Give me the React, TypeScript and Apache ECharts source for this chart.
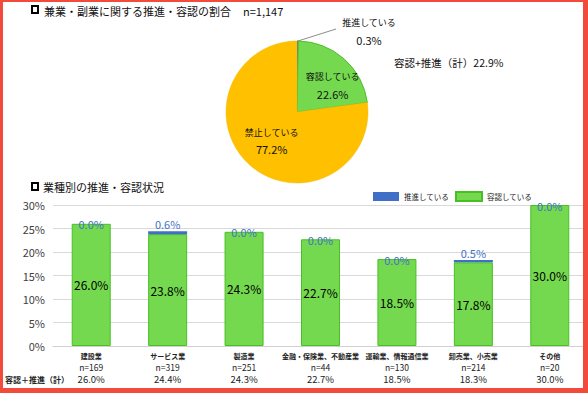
import React, { useEffect, useRef } from 'react';
import * as echarts from 'echarts';

// ---- Pie data ----
const pieNames = ['推進している', '容認している', '禁止している'];
const pieValues = [0.3, 22.6, 77.2];
const pieColors = ['#4472c4', '#74d94f', '#ffc000'];
const pieTitle = '兼業・副業に関する推進・容認の割合';
const sampleSize = 'n=1,147';
const pieTotalLabel = '容認+推進（計）22.9%';

// ---- Bar data ----
const barTitle = '業種別の推進・容認状況';
const categories = ['建設業', 'サービス業', '製造業', '金融・保険業、不動産業', '運輸業、情報通信業', '卸売業、小売業', 'その他'];
const sampleN = [169, 319, 251, 44, 130, 214, 20];
const promote = [0.0, 0.6, 0.0, 0.0, 0.0, 0.5, 0.0];
const allow = [26.0, 23.8, 24.3, 22.7, 18.5, 17.8, 30.0];
const totals = [26.0, 24.4, 24.3, 22.7, 18.5, 18.3, 30.0];
const totalRowLabel = '容認＋推進（計）';
const seriesNames = ['推進している', '容認している'];
const yMin = 0;
const yMax = 30;
const yStep = 5;

const FONT = '"Noto Sans CJK JP", "Noto Sans", sans-serif';

export default function App() {
  const ref = useRef<HTMLDivElement>(null);

  useEffect(() => {
    if (!ref.current) return;
    const chart = echarts.init(ref.current, null, { renderer: 'svg' });
    const option: any = {
      animation: false,
      backgroundColor: '#ffffff',
      textStyle: { fontFamily: FONT },
      legend: {
        data: seriesNames,
        left: 368,
        top: 186,
        itemWidth: 26,
        itemHeight: 9,
        itemGap: 6,
        icon: 'rect',
        textStyle: { fontSize: 7.5, color: '#222', fontFamily: FONT },
      },
      grid: { left: 53, right: -7, top: 205, bottom: 47, containLabel: false },
      xAxis: {
        type: 'category',
        data: categories,
        axisTick: { show: false },
        axisLine: { lineStyle: { color: '#d0d0d0' } },
        axisLabel: {
          interval: 0,
          margin: 4,
          formatter: (v: string, i: number) =>
            `{a|${v}}\n{b|n=${sampleN[i]}}\n{c|${totals[i].toFixed(1)}%}`,
          rich: {
            a: { fontSize: 7, fontWeight: 'bold', color: '#222', lineHeight: 11, fontFamily: FONT },
            b: { fontSize: 8.5, color: '#222', lineHeight: 11, fontFamily: FONT },
            c: { fontSize: 9.5, color: '#222', lineHeight: 13, fontFamily: FONT },
          },
        },
      },
      yAxis: {
        type: 'value',
        min: yMin,
        max: yMax,
        interval: yStep,
        axisLine: { show: false },
        axisTick: { show: false },
        splitLine: { lineStyle: { color: '#d9d9d9' } },
        axisLabel: { formatter: '{value}%', fontSize: 11, color: '#404040', margin: 8 },
      },
      series: [
        {
          type: 'pie',
          center: [297, 112],
          radius: 71,
          startAngle: 90,
          clockwise: true,
          avoidLabelOverlap: false,
          data: pieNames.map((n, i) => ({
            name: n,
            value: pieValues[i],
            itemStyle: {
              color: pieColors[i],
              borderColor: i === 1 ? '#4fbf2c' : i === 0 ? '#3a65b5' : '#f5b800',
              borderWidth: i === 2 ? 0.5 : 1,
            },
            label:
              i === 0
                ? { position: 'outside', show: true }
                : { position: 'inside', show: true },
            labelLine: i === 0 ? { show: true, lineStyle: { color: '#8c8c8c', width: 1 } } : { show: false },
          })),
          label: {
            formatter: (p: any) => `{n|${p.name}}\n{v|${p.value.toFixed(1)}%}`,
            rich: {
              n: { fontSize: 9, color: '#111', lineHeight: 17, fontFamily: FONT },
              v: { fontSize: 11, color: '#111', lineHeight: 17, fontFamily: FONT },
            },
          },
          labelLayout: (p: any) => {
            if (p.dataIndex === 0) {
              return {
                x: 369,
                y: 31,
                align: 'center',
                verticalAlign: 'middle',
                labelLinePoints: [
                  [298, 41],
                  [317, 35],
                  [336, 29],
                ],
              };
            }
            if (p.dataIndex === 1) return { dx: 10, dy: 2 };
            return {};
          },
        },
        {
          name: seriesNames[1],
          type: 'bar',
          stack: 'total',
          barWidth: 39,
          itemStyle: { color: '#74d94f', borderColor: '#48c024', borderWidth: 1 },
          label: {
            show: true,
            position: 'inside',
            formatter: (p: any) => `${p.value.toFixed(1)}%`,
            fontSize: 12,
            color: '#000',
          },
          data: allow,
        },
        {
          name: seriesNames[0],
          type: 'bar',
          stack: 'total',
          barWidth: 39,
          itemStyle: { color: '#3f6fc6' },
          label: {
            show: true,
            position: 'top',
            distance: 2,
            formatter: (p: any) => `${p.value.toFixed(1)}%`,
            fontSize: 11,
            color: '#4472c4',
          },
          data: promote.map((v) => ({ value: v, label: v === 0 ? { offset: [0, 8] } : {} })),
        },
      ],
      graphic: [
        { type: 'rect', shape: { x: 32, y: 6, width: 6, height: 7 }, style: { fill: 'none', stroke: '#000', lineWidth: 2 } },
        {
          type: 'text',
          x: 44,
          y: 11,
          style: { text: pieTitle, fontSize: 11, fill: '#111', fontFamily: FONT, verticalAlign: 'middle' },
        },
        {
          type: 'text',
          x: 243,
          y: 11,
          style: { text: sampleSize, fontSize: 11, fill: '#111', fontFamily: FONT, verticalAlign: 'middle' },
        },
        {
          type: 'text',
          x: 394,
          y: 62,
          style: { text: pieTotalLabel, fontSize: 10.5, fill: '#111', fontFamily: FONT, verticalAlign: 'middle' },
        },
        { type: 'rect', shape: { x: 32, y: 183, width: 6, height: 7 }, style: { fill: 'none', stroke: '#000', lineWidth: 2 } },
        {
          type: 'text',
          x: 43,
          y: 187,
          style: { text: barTitle, fontSize: 11, fill: '#111', fontFamily: FONT, verticalAlign: 'middle' },
        },
        {
          type: 'text',
          x: 5,
          y: 379,
          style: { text: totalRowLabel, fontSize: 8, fontWeight: 'bold', fill: '#222', fontFamily: FONT, verticalAlign: 'middle' },
        },
        { type: 'rect', z: 100, shape: { x: 0, y: 0, width: 3, height: 393 }, style: { fill: '#f24a3b' } },
        { type: 'rect', z: 100, shape: { x: 0, y: 0, width: 588, height: 2 }, style: { fill: '#f24a3b' } },
        { type: 'rect', z: 100, shape: { x: 583, y: 0, width: 5, height: 393 }, style: { fill: '#f24a3b' } },
        { type: 'rect', z: 100, shape: { x: 0, y: 388, width: 588, height: 5 }, style: { fill: '#f24a3b' } },
      ],
    };
    chart.setOption(option);
    return () => chart.dispose();
  }, []);

  return (
    <div
      ref={ref}
      style={{ position: 'fixed', left: 0, top: 0, width: 588, height: 393, background: '#fff' }}
    />
  );
}
